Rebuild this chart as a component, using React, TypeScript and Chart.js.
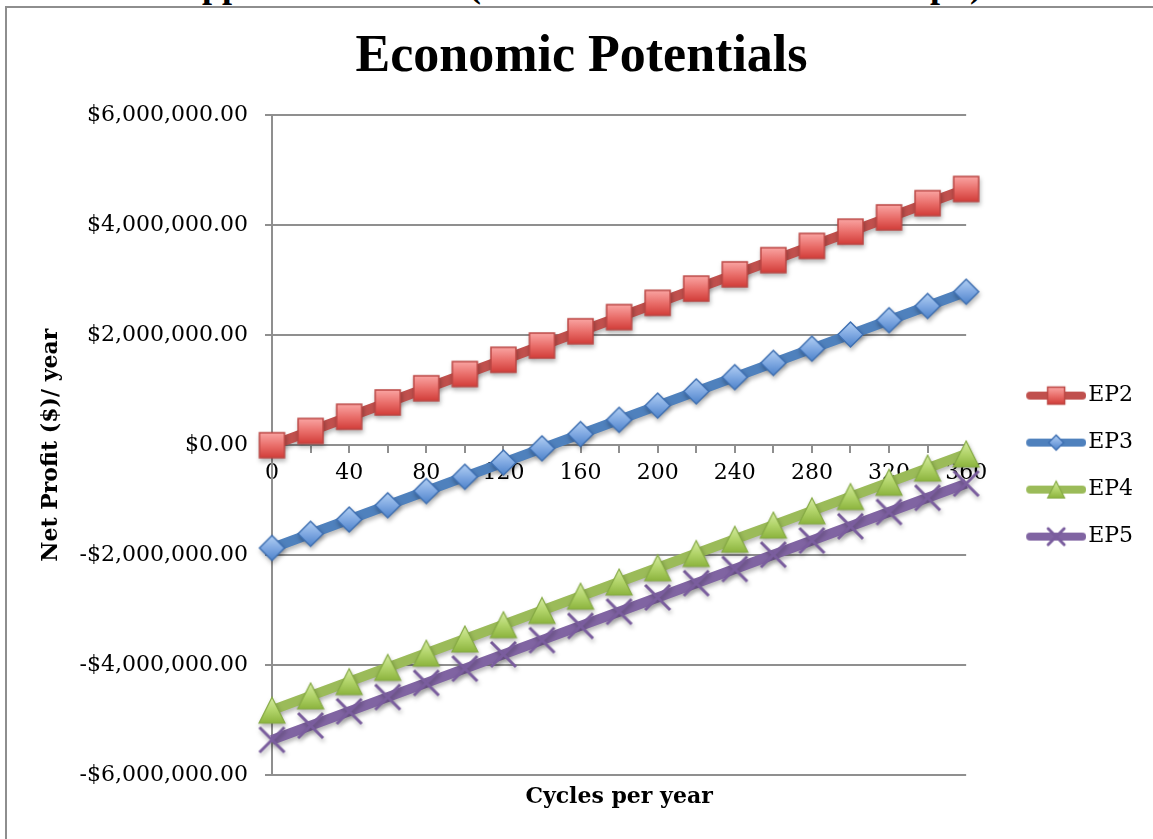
import React, { useEffect, useRef } from 'react';
import { Chart, registerables } from 'chart.js';

Chart.register(...registerables);

// ---- data ----
const categories = ['0', '20', '40', '60', '80', '100', '120', '140', '160', '180', '200', '220', '240', '260', '280', '300', '320', '340', '360'];
const seriesNames = ['EP2', 'EP3', 'EP4', 'EP5'];
const ep2Values = [0, 259000, 518000, 777000, 1036000, 1295000, 1554000, 1813000, 2072000, 2331000, 2590000, 2849000, 3108000, 3367000, 3626000, 3885000, 4144000, 4403000, 4662000];
const ep3Values = [-1870000, -1611000, -1352000, -1093000, -834000, -575000, -316000, -57000, 202000, 461000, 720000, 979000, 1238000, 1497000, 1756000, 2015000, 2274000, 2533000, 2792000];
const ep4Values = [-4820000, -4561000, -4302000, -4043000, -3784000, -3525000, -3266000, -3007000, -2748000, -2489000, -2230000, -1971000, -1712000, -1453000, -1194000, -935000, -676000, -417000, -158000];
const ep5Values = [-5360000, -5101000, -4842000, -4583000, -4324000, -4065000, -3806000, -3547000, -3288000, -3029000, -2770000, -2511000, -2252000, -1993000, -1734000, -1475000, -1216000, -957000, -698000];
const yMin = -6000000;
const yMax = 6000000;
const yStep = 2000000;

const titleText = 'Economic Potentials';
const xTitleText = 'Cycles per year';
const yTitleText = 'Net Profit ($)/ year';
const headingText = 'Appendix B Chart (Economic Potential Line Graph)';

// ---- styles ----
const lineColors = ['#C0504D', '#4F81BD', '#9BBB59', '#8064A2'];
const GRID = '#8f8f8f';
const TICK_FONT = { family: '"DejaVu Serif", serif', size: 22 };
const AXIS_TITLE_FONT = { family: '"DejaVu Serif", serif', size: 22, weight: 'bold' as const };

function mk(w: number, h: number) {
  const c = document.createElement('canvas');
  c.width = w;
  c.height = h;
  return c;
}

function drawSquare(ctx: CanvasRenderingContext2D, cx: number, cy: number, s: number) {
  const g = ctx.createLinearGradient(0, cy - s / 2, 0, cy + s / 2);
  g.addColorStop(0, '#FAA5A3');
  g.addColorStop(0.55, '#E86A66');
  g.addColorStop(1, '#D13D39');
  ctx.fillStyle = g;
  ctx.fillRect(cx - s / 2, cy - s / 2, s, s);
  ctx.strokeStyle = '#BC4744';
  ctx.lineWidth = 1.5;
  ctx.strokeRect(cx - s / 2, cy - s / 2, s, s);
}
function drawDiamond(ctx: CanvasRenderingContext2D, cx: number, cy: number, s: number) {
  const h = s / 2;
  const g = ctx.createLinearGradient(0, cy - h, 0, cy + h);
  g.addColorStop(0, '#B3D0F4');
  g.addColorStop(0.5, '#80A9E2');
  g.addColorStop(1, '#4E83CB');
  ctx.beginPath();
  ctx.moveTo(cx, cy - h);
  ctx.lineTo(cx + h, cy);
  ctx.lineTo(cx, cy + h);
  ctx.lineTo(cx - h, cy);
  ctx.closePath();
  ctx.fillStyle = g;
  ctx.fill();
  ctx.strokeStyle = '#3F70B2';
  ctx.lineWidth = 1.5;
  ctx.stroke();
}
function drawTriangle(ctx: CanvasRenderingContext2D, cx: number, cy: number, s: number) {
  const h = s / 2;
  const g = ctx.createLinearGradient(0, cy - h, 0, cy + h);
  g.addColorStop(0, '#D6ECA3');
  g.addColorStop(0.5, '#B2D46A');
  g.addColorStop(1, '#8CB43E');
  ctx.beginPath();
  ctx.moveTo(cx, cy - h);
  ctx.lineTo(cx + h, cy + h);
  ctx.lineTo(cx - h, cy + h);
  ctx.closePath();
  ctx.fillStyle = g;
  ctx.fill();
  ctx.strokeStyle = '#86AB45';
  ctx.lineWidth = 1.2;
  ctx.stroke();
}
function drawCross(ctx: CanvasRenderingContext2D, cx: number, cy: number, s: number) {
  const h = s / 2;
  ctx.beginPath();
  ctx.moveTo(cx - h, cy - h);
  ctx.lineTo(cx + h, cy + h);
  ctx.moveTo(cx + h, cy - h);
  ctx.lineTo(cx - h, cy + h);
  ctx.strokeStyle = '#7A5D9E';
  ctx.lineWidth = 3;
  ctx.stroke();
}
const drawers = [drawSquare, drawDiamond, drawTriangle, drawCross];
const markerSizes = [25, 25, 26, 25];
const legendMarkerSizes = [17, 15, 17, 16];

function makeMarker(i: number) {
  const s = markerSizes[i];
  const c = mk(s + 4, s + 4);
  const ctx = c.getContext('2d')!;
  drawers[i](ctx, (s + 4) / 2, (s + 4) / 2, s);
  return c;
}
function makeLegendMarker(i: number) {
  const c = mk(104, 26);
  const ctx = c.getContext('2d')!;
  ctx.beginPath();
  ctx.moveTo(48, 13);
  ctx.lineTo(100, 13);
  ctx.strokeStyle = lineColors[i];
  ctx.lineWidth = 8;
  ctx.lineCap = 'round';
  ctx.stroke();
  drawers[i](ctx, 74, 13, legendMarkerSizes[i]);
  return c;
}

function fmtMoney(v: number) {
  const a = Math.abs(v).toLocaleString('en-US', { minimumFractionDigits: 2, maximumFractionDigits: 2 });
  return (v < 0 ? '-$' : '$') + a;
}

const shadowPlugin = {
  id: 'lineShadow',
  beforeDatasetDraw(chart: any) {
    const ctx = chart.ctx;
    ctx.save();
    ctx.shadowColor = 'rgba(0,0,0,0.28)';
    ctx.shadowBlur = 4;
    ctx.shadowOffsetX = 1;
    ctx.shadowOffsetY = 3;
  },
  afterDatasetDraw(chart: any) {
    chart.ctx.restore();
  },
};

export default function App() {
  const ref = useRef<HTMLCanvasElement>(null);

  useEffect(() => {
    const canvas = ref.current!;
    const markers = [0, 1, 2, 3].map(makeMarker);
    const legendMarkers = [0, 1, 2, 3].map(makeLegendMarker);
    const valuesList = [ep2Values, ep3Values, ep4Values, ep5Values];

    const chart = new Chart(canvas, {
      type: 'line',
      data: {
        labels: categories,
        datasets: seriesNames.map((name, i) => ({
          label: name,
          data: valuesList[i],
          borderColor: lineColors[i],
          backgroundColor: lineColors[i],
          borderWidth: 10,
          tension: 0,
          fill: false,
          pointStyle: markers[i] as any,
          pointRadius: 12,
          clip: false as any,
        })),
      },
      options: {
        responsive: false,
        devicePixelRatio: 1,
        animation: false,
        layout: { padding: { left: 20, right: 10, top: 0, bottom: 0 } },
        plugins: {
          title: {
            display: true,
            text: titleText,
            color: '#000',
            font: { family: '"Liberation Serif", serif', size: 52, weight: 'bold' },
            padding: { top: 26, bottom: 27 },
          },
          legend: {
            position: 'right',
            title: { display: true, text: '', padding: { top: 0, bottom: 92 }, font: { size: 1 } },
            labels: {
              usePointStyle: true,
              pointStyleWidth: 86,
              boxHeight: 22,
              padding: 25,
              color: '#000',
              font: TICK_FONT,
              generateLabels: (ch: any) => {
                const items = (Chart.defaults.plugins.legend.labels as any).generateLabels(ch);
                items.forEach((it: any) => {
                  it.pointStyle = legendMarkers[it.datasetIndex];
                  it.rotation = 0;
                  it.fontColor = '#000';
                });
                return items;
              },
            },
          },
          tooltip: { enabled: false },
        },
        scales: {
          x: {
            type: 'category',
            position: { y: 0 } as any,
            offset: false,
            grid: { drawOnChartArea: false, drawTicks: true, tickLength: 7, color: GRID, lineWidth: 2 },
            border: { display: true, color: GRID, width: 2 },
            ticks: {
              autoSkip: false,
              maxRotation: 0,
              minRotation: 0,
              padding: 8,
              color: '#000',
              font: TICK_FONT,
              callback: (_v: any, i: number) => (i % 2 === 0 ? categories[i] : ''),
            },
          },
          x2: {
            type: 'category',
            position: 'bottom',
            grid: { display: false, drawTicks: false },
            border: { display: false },
            ticks: { display: false },
            title: {
              display: true,
              text: xTitleText,
              color: '#000',
              font: AXIS_TITLE_FONT,
              padding: { top: 0, bottom: 29 },
            },
            afterFit: (s: any) => {
              s.height = 64;
            },
          },
          y: {
            type: 'linear',
            min: yMin,
            max: yMax,
            ticks: {
              stepSize: yStep,
              padding: 17,
              color: '#000',
              font: TICK_FONT,
              callback: (v: any) => fmtMoney(Number(v)),
            },
            grid: { color: GRID, lineWidth: 2, tickLength: 7 },
            border: { display: true, color: GRID, width: 2 },
            title: {
              display: true,
              text: yTitleText,
              color: '#000',
              font: AXIS_TITLE_FONT,
              padding: { top: 18, bottom: 0 },
            },
            afterFit: (s: any) => {
              s.width = 252;
            },
          },
        },
      } as any,
      plugins: [shadowPlugin],
    });
    return () => chart.destroy();
  }, []);

  return (
    <div style={{ position: 'absolute', left: 0, top: 0, width: 1153, height: 839, overflow: 'hidden', background: '#fff' }}>
      <div
        style={{
          position: 'absolute',
          left: 176,
          top: -33,
          whiteSpace: 'nowrap',
          font: 'bold 36px "Liberation Serif", serif',
          lineHeight: '36px',
          color: '#000',
        }}
      >
        {headingText}
      </div>
      <div style={{ position: 'absolute', left: 5, top: 6, width: 1300, height: 1000, border: '2px solid #8e8e8e' }} />
      <canvas ref={ref} width={1153} height={839} style={{ position: 'absolute', left: 0, top: 0 }} />
    </div>
  );
}
